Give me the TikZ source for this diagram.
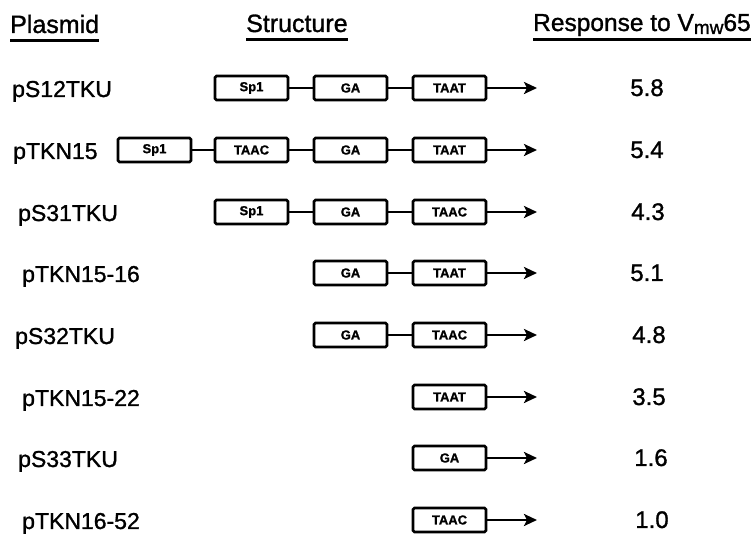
\documentclass[tikz,border=0pt]{standalone}
\usepackage{fontspec}
\setmainfont{Liberation Sans}
\newfontfamily\heavy[FakeBold=1.2]{Liberation Sans}
\newfontfamily\boxfont[FakeBold=1]{Liberation Sans Bold}
\usetikzlibrary{arrows.meta}
\begin{document}
\begin{tikzpicture}[x=1pt,y=-1pt,
  gene/.style={draw, line width=2.8pt, rounded corners=1.5pt, minimum width=73pt, minimum height=24pt, inner sep=0pt, font=\boxfont\fontsize{13}{13}\selectfont},
  link/.style={line width=2.6pt},
  tx/.style={link, -{Stealth[length=13pt,width=12pt,inset=3pt]}},
  lab/.style={anchor=base west, inner sep=0pt, font=\heavy\fontsize{23}{23}\selectfont},
  val/.style={anchor=base, inner sep=0pt, font=\heavy\fontsize{24}{24}\selectfont},
  head/.style={anchor=base west, inner sep=0pt, font=\heavy\fontsize{25}{25}\selectfont},
  uline/.style={line width=3pt}
]
\useasboundingbox (0,0) rectangle (756,534);
% headings
\node[head] (h1) at (10,33) {Plasmid};
\node[head] (h2) at (246,32) {Structure};
\node[head,font=\heavy\fontsize{24.5}{24.5}\selectfont] (h3) at (533,31) {Response to V\raisebox{-3pt}{\fontsize{19}{19}\selectfont mw}65};
\draw[uline] ([yshift=-8pt]h1.base west) -- ([yshift=-8pt]h1.base east);
\draw[uline] ([yshift=-8pt]h2.base west) -- ([yshift=-8pt]h2.base east);
\draw[uline] ([yshift=-9pt]h3.base west) -- ([yshift=-9pt]h3.base east);
% row 1
\node[lab] (l1) at (12,97) {pS12TKU};
\node[gene] (b1) at (251.5,88) {Sp1};
\node[gene] (c1) at (350.5,88) {GA};
\node[gene] (d1) at (449.5,88) {TAAT};
\coordinate (e1) at (537,88);
\draw[link] (b1) -- (c1); \draw[link] (c1) -- (d1); \draw[tx] (d1) -- (e1);
\node[val] (v1) at (647,96) {5.8};
% row 2
\node[lab] (l2) at (13,159) {pTKN15};
\node[gene] (a2) at (154.5,150) {Sp1};
\node[gene] (b2) at (251.5,150) {TAAC};
\node[gene] (c2) at (350.5,150) {GA};
\node[gene] (d2) at (449.5,150) {TAAT};
\coordinate (e2) at (537,150);
\draw[link] (a2) -- (b2); \draw[link] (b2) -- (c2); \draw[link] (c2) -- (d2); \draw[tx] (d2) -- (e2);
\node[val] (v2) at (647,158) {5.4};
% row 3
\node[lab] (l3) at (18,221) {pS31TKU};
\node[gene] (b3) at (251.5,212) {Sp1};
\node[gene] (c3) at (350.5,212) {GA};
\node[gene] (d3) at (449.5,212) {TAAC};
\coordinate (e3) at (537,212);
\draw[link] (b3) -- (c3); \draw[link] (c3) -- (d3); \draw[tx] (d3) -- (e3);
\node[val] (v3) at (648,220) {4.3};
% row 4
\node[lab] (l4) at (22,282) {pTKN15-16};
\node[gene] (c4) at (350.5,273) {GA};
\node[gene] (d4) at (449.5,273) {TAAT};
\coordinate (e4) at (537,273);
\draw[link] (c4) -- (d4); \draw[tx] (d4) -- (e4);
\node[val] (v4) at (647,281) {5.1};
% row 5
\node[lab] (l5) at (15,344) {pS32TKU};
\node[gene] (c5) at (350.5,335) {GA};
\node[gene] (d5) at (449.5,335) {TAAC};
\coordinate (e5) at (537,335);
\draw[link] (c5) -- (d5); \draw[tx] (d5) -- (e5);
\node[val] (v5) at (649,343) {4.8};
% row 6
\node[lab] (l6) at (22,406) {pTKN15-22};
\node[gene] (d6) at (449.5,397) {TAAT};
\coordinate (e6) at (537,397);
\draw[tx] (d6) -- (e6);
\node[val] (v6) at (649,405) {3.5};
% row 7
\node[lab] (l7) at (18,467) {pS33TKU};
\node[gene] (d7) at (449.5,458) {GA};
\coordinate (e7) at (537,458);
\draw[tx] (d7) -- (e7);
\node[val] (v7) at (651,466) {1.6};
% row 8
\node[lab] (l8) at (22,529) {pTKN16-52};
\node[gene] (d8) at (449.5,520) {TAAC};
\coordinate (e8) at (537,520);
\draw[tx] (d8) -- (e8);
\node[val] (v8) at (652,528) {1.0};
\end{tikzpicture}
\end{document}
